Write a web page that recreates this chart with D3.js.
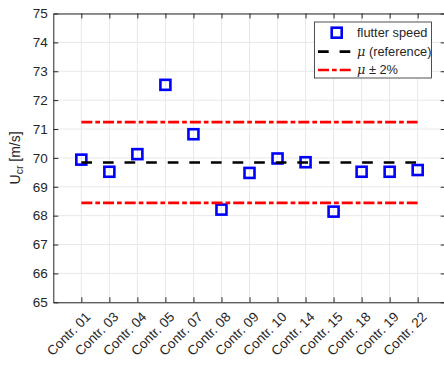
<!doctype html>
<meta charset="utf-8">
<title>flutter speed</title>
<style>
    body {
        margin: 0;
        background: white;
    }

    svg {
        display: block;
        font-family: Arial, "Liberation Sans", Helvetica, sans-serif;
    }

    text {
        fill: #262626;
        font-size: 13.5px;
    }

    .grid line {
        stroke: #e8e8e8;
        stroke-width: 1;
    }
</style>
<svg width=444 height=365></svg>
<script src=https://d3js.org/d3.v7.min.js></script>
<script>
    // data
    var categories = ['Contr. 01', 'Contr. 03', 'Contr. 04', 'Contr. 05', 'Contr. 07', 'Contr. 08', 'Contr. 09',
        'Contr. 10', 'Contr. 14', 'Contr. 15', 'Contr. 18', 'Contr. 19', 'Contr. 22'];
    var flutterSpeed = [69.94, 69.52, 70.13, 72.53, 70.82, 68.21, 69.48, 69.98, 69.85, 68.14, 69.52, 69.52, 69.58];
    var muReference = 69.84;
    var band = 0.02; // +- 2%
    var yTicks = [65, 66, 67, 68, 69, 70, 71, 72, 73, 74, 75];
    var legendLabels = ['flutter speed', ' (reference)', ' \u00b1 2%'];

    var svg = d3.select('svg');
    // note: "top" is taken by window.top, so use other names
    var plotLeft = 53.3, plotRight = 445.7, plotTop = 13.5, plotBottom = 302.3;
    var ink = '#262626';

    var x = d3.scalePoint().domain(categories).range([plotLeft, plotRight]).padding(1);
    var y = d3.scaleLinear().domain([65, 75]).range([plotBottom, plotTop]);

    // grid
    var grid = svg.append('g').attr('class', 'grid');
    grid.selectAll('.gx').data(categories).enter().append('line')
        .attr('x1', function (d) { return x(d); })
        .attr('x2', function (d) { return x(d); })
        .attr('y1', plotTop).attr('y2', plotBottom);
    grid.selectAll('.gy').data(yTicks).enter().append('line')
        .attr('x1', plotLeft).attr('x2', plotRight)
        .attr('y1', function (d) { return y(d); })
        .attr('y2', function (d) { return y(d); });

    // axes, ticks pointing inwards like matlab
    function styleAxis(g) {
        g.select('.domain').attr('stroke', ink).attr('stroke-width', 1);
        g.selectAll('.tick line').attr('stroke', ink);
        g.selectAll('.tick text').attr('fill', ink).style('font-size', '13.5px');
        g.attr('font-family', null).attr('font-size', null);
    }

    var xAxis = svg.append('g')
        .attr('transform', 'translate(0,' + plotBottom + ')')
        .call(d3.axisBottom(x).tickSizeInner(-5).tickSizeOuter(0))
        .call(styleAxis);
    xAxis.selectAll('.tick text')
        .attr('text-anchor', 'end')
        .attr('transform', 'translate(9.5,15.5) rotate(-45)')
        .attr('x', 0).attr('y', 0).attr('dy', 0);

    svg.append('g')
        .attr('transform', 'translate(0,' + plotTop + ')')
        .call(d3.axisTop(x).tickSizeInner(-5).tickSizeOuter(0).tickFormat(''))
        .call(styleAxis);

    svg.append('g')
        .attr('transform', 'translate(' + plotLeft + ',0)')
        .call(d3.axisLeft(y).tickValues(yTicks).tickSizeInner(-5).tickSizeOuter(0).tickPadding(5.5))
        .call(styleAxis);

    svg.append('g')
        .attr('transform', 'translate(' + plotRight + ',0)')
        .call(d3.axisRight(y).tickValues(yTicks).tickSizeInner(-5).tickSizeOuter(0).tickFormat(''))
        .call(styleAxis);

    // y label with subscript
    var ylab = svg.append('text')
        .attr('transform', 'translate(19.5,' + ((plotTop + plotBottom) / 2) + ') rotate(-90)')
        .attr('text-anchor', 'middle')
        .style('font-size', '14px');
    ylab.append('tspan').text('U');
    ylab.append('tspan').attr('dy', 3).style('font-size', '10.5px').text('cr');
    ylab.append('tspan').attr('dy', -3).text(' [m/s]');

    // points
    var data = categories.map(function (c, i) {
        return { name: c, value: flutterSpeed[i] };
    });
    svg.selectAll('.pt').data(data).enter().append('rect')
        .attr('x', function (d) { return x(d.name) - 5; })
        .attr('y', function (d) { return y(d.value) - 5; })
        .attr('width', 10).attr('height', 10)
        .attr('fill', 'none')
        .attr('stroke', '#0000ff')
        .attr('stroke-width', 2.6);

    // reference lines
    var x0 = x(categories[0]), x1 = x(categories[categories.length - 1]);
    var dashed = '10.7 10.9';
    var dashDot = '11 3 4.7 3';
    var refLines = [
        { v: muReference, color: '#000000', dash: dashed },
        { v: muReference * (1 + band), color: '#ff0000', dash: dashDot },
        { v: muReference * (1 - band), color: '#ff0000', dash: dashDot }
    ];
    svg.selectAll('.ref').data(refLines).enter().append('line')
        .attr('x1', x0).attr('x2', x1)
        .attr('y1', function (d) { return y(d.v); })
        .attr('y2', function (d) { return y(d.v); })
        .attr('stroke', function (d) { return d.color; })
        .attr('stroke-width', 2.7)
        .attr('stroke-dasharray', function (d) { return d.dash; });

    // legend
    var lg = svg.append('g').attr('transform', 'translate(314.5,22)');
    lg.append('rect').attr('width', 117).attr('height', 56)
        .attr('fill', 'white').attr('stroke', ink).attr('stroke-width', 0.8);
    var rowY = [10.7, 29.7, 48];
    lg.append('rect').attr('x', 17.2).attr('y', rowY[0] - 5).attr('width', 10).attr('height', 10)
        .attr('fill', 'none').attr('stroke', '#0000ff').attr('stroke-width', 2.6);
    lg.append('line').attr('x1', 3.5).attr('x2', 36.5).attr('y1', rowY[1]).attr('y2', rowY[1])
        .attr('stroke', '#000').attr('stroke-width', 2.7).attr('stroke-dasharray', dashed);
    lg.append('line').attr('x1', 3.5).attr('x2', 36.5).attr('y1', rowY[2]).attr('y2', rowY[2])
        .attr('stroke', '#ff0000').attr('stroke-width', 2.7).attr('stroke-dasharray', dashDot);

    legendLabels.forEach(function (label, i) {
        var t = lg.append('text').attr('x', 42.5).attr('y', rowY[i]).attr('dy', '0.35em')
            .style('font-size', '12.8px');
        if (i > 0) {
            t.append('tspan').style('font-style', 'italic').attr('font-family', 'DejaVu Serif, serif').text('\u03bc');
        }
        t.append('tspan').text(label);
    });
</script>
